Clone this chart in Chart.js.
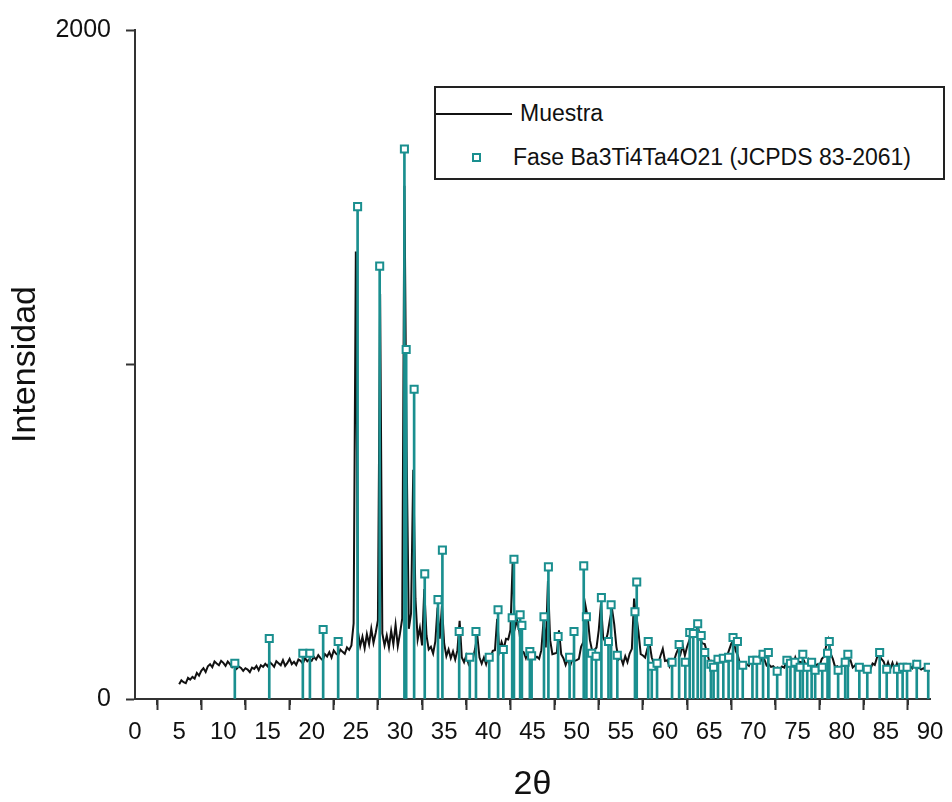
<!DOCTYPE html>
<html>
<head>
<meta charset="utf-8">
<title>DRX muestra</title>
<script src="https://cdn.jsdelivr.net/npm/chart.js@4.4.1/dist/chart.umd.min.js"></script>
<style>
  body { margin: 0; background: #fff; }
  #wrap { position: relative; width: 952px; height: 802px; }
  #legend {
    position: absolute; left: 434px; top: 86px; width: 507px; height: 90px;
    border: 2px solid #222; background: #fff;
    font: 23px 'Liberation Sans', Arial, sans-serif; color: #111;
  }
  #legend .txt { position: absolute; line-height: 26px; white-space: nowrap; }
  #legend .line { position: absolute; left: 0; top: 25px; width: 76px; border-top: 2px solid #111; }
  #legend .mark { position: absolute; left: 36px; top: 65px; width: 5px; height: 5px; border: 2px solid #1a8f8f; }
</style>
</head>
<body>
<div id="wrap">
  <canvas id="xrdChart"></canvas>
  <div id="legend">
    <div class="line"></div>
    <div class="txt" style="left:84px; top:12px;">Muestra</div>
    <div class="mark"></div>
    <div class="txt" style="left:77px; top:56px;">Fase Ba3Ti4Ta4O21 (JCPDS 83-2061)</div>
  </div>
</div>
<script>
// scan: 5 to 90 deg, step 0.25 deg
const scanStart = 5;
const scanStep = 0.25;
const scanCounts = [
  44, 56, 50, 47, 63, 58, 66, 61, 78, 70, 84, 92, 81, 98, 104, 95, 112, 106, 101, 114,            // 5
  108, 99, 112, 104, 95, 101, 90, 97, 93, 84, 92, 88, 80, 94, 90, 99, 86, 101, 96, 105,           // 10
  98, 110, 104, 96, 113, 107, 101, 116, 99, 108, 120, 104, 111, 102, 118, 114, 106, 122, 113, 119, // 15
  114, 126, 118, 131, 122, 116, 134, 127, 140, 124, 145, 136, 131, 148, 141, 135, 154, 147, 160, 226, // 20
  1338, 200, 158, 186, 152, 194, 164, 210, 168, 198, 236, 1211, 196, 160, 190, 154, 204, 164, 222, 158, // 25
  196, 240, 1534, 739, 210, 256, 685, 300, 178, 212, 160, 329, 190, 148, 156, 136, 172, 273, 180, 279, // 30
  166, 128, 148, 122, 142, 118, 146, 234, 124, 110, 130, 106, 126, 120, 150, 190, 124, 106, 124, 104, // 35
  128, 124, 144, 146, 240, 144, 170, 150, 180, 178, 206, 406, 210, 234, 204, 144, 140, 122, 144, 118, // 40
  128, 122, 126, 120, 146, 234, 154, 353, 176, 134, 136, 138, 205, 134, 122, 102, 120, 98, 118, 114,  // 45
  116, 120, 156, 170, 279, 243, 176, 144, 146, 154, 206, 285, 184, 170, 194, 236, 270, 224, 156, 118, // 50
  124, 104, 128, 110, 136, 150, 300, 250, 200, 134, 130, 124, 150, 166, 124, 106, 114, 108, 130, 150, // 55
  114, 116, 98, 118, 112, 134, 150, 134, 160, 130, 156, 175, 190, 190, 205, 215, 176, 166, 164, 140,  // 60
  114, 114, 108, 116, 112, 120, 118, 124, 126, 146, 165, 175, 144, 130, 104, 108, 102, 104, 99, 118,  // 65
  112, 116, 116, 132, 114, 118, 100, 104, 96, 98, 90, 94, 89, 97, 94, 114, 100, 120, 102, 124,        // 70
  106, 111, 109, 114, 94, 116, 96, 102, 98, 104, 100, 120, 126, 160, 178, 136, 120, 96, 98, 80,       // 75
  100, 99, 118, 114, 116, 94, 100, 92, 96, 90, 94, 86, 92, 89, 106, 102, 124, 130, 120, 112,          // 80
  92, 110, 90, 108, 88, 106, 86, 104, 98, 102, 94, 98, 92, 110, 90, 94, 88, 92, 86, 90,               // 85
  84                                                                                                   // 90
];

// reference pattern JCPDS 83-2061 (2theta, height on the same scale)
const phaseAngles = [
  11.3, 15.2, 19.0, 19.8, 21.3, 23.0, 25.2, 27.7, 30.5, 30.7,
  31.6, 32.8, 34.3, 34.8, 36.7, 37.9, 38.6, 40.1, 41.1, 41.7,
  42.7, 42.9, 43.6, 43.8, 44.7, 44.9, 46.3, 46.8, 47.9, 49.2,
  49.7, 50.8, 51.1, 51.7, 52.2, 52.8, 53.6, 53.9, 54.6, 56.6,
  56.8, 58.1, 58.5, 59.1, 60.8, 61.6, 62.3, 62.8, 63.2, 63.7,
  64.1, 64.5, 65.2, 65.5, 66.0, 66.6, 67.2, 67.7, 68.2, 68.8,
  69.9, 70.4, 71.1, 71.7, 72.7, 73.8, 74.2, 74.7, 75.3, 75.6,
  76.1, 76.6, 77.0, 77.8, 78.4, 78.6, 79.6, 80.4, 80.7, 82.0,
  82.9, 84.3, 85.1, 86.3, 86.9, 87.4, 88.5, 89.8
];
const phaseHeights = [
  107, 181, 137, 137, 208, 172, 1472, 1294, 1644, 1045,
  926, 374, 297, 445, 202, 125, 202, 125, 267, 148,
  243, 418, 252, 220, 142, 129, 246, 395, 187, 125,
  202, 398, 246, 137, 128, 303, 172, 282, 131, 261,
  350, 172, 98, 107, 110, 163, 110, 199, 196, 225,
  190, 139, 104, 95, 119, 122, 125, 184, 172, 101,
  116, 116, 134, 139, 83, 116, 107, 110, 95, 134,
  95, 110, 86, 95, 137, 172, 86, 110, 134, 95,
  89, 139, 89, 89, 95, 95, 104, 95
];

const xTicks = { min: 0, max: 90, step: 5 };
const yTicks = { min: 0, max: 2000, step: 1000 };

const teal = '#1a8f8f';
const ink = '#111';
const fontFamily = "'Liberation Sans', Arial, sans-serif";

const muestra = scanCounts.map((c, i) => ({ x: scanStart + i * scanStep, y: c }));
const fase = phaseAngles.map((a, i) => ({ x: a, y: phaseHeights[i] }));

// minor ticks every 2.5 deg on the x axis
const minorTicks = {
  id: 'minorTicks',
  afterDraw(chart) {
    const xs = chart.scales.x;
    const ctx = chart.ctx;
    ctx.save();
    ctx.strokeStyle = '#333';
    ctx.lineWidth = 2;
    for (let v = xTicks.min + xTicks.step / 2; v < xTicks.max; v += xTicks.step) {
      const px = Math.round(xs.getPixelForValue(v));
      ctx.beginPath();
      ctx.moveTo(px, xs.top);
      ctx.lineTo(px, xs.top + 6);
      ctx.stroke();
    }
    ctx.restore();
  }
};

Chart.defaults.font.family = fontFamily;
Chart.defaults.color = ink;

new Chart(document.getElementById('xrdChart'), {
  type: 'line',
  data: {
    datasets: [
      {
        label: 'Fase Ba3Ti4Ta4O21 (JCPDS 83-2061)',
        type: 'scatter',
        data: fase,
        showLine: false,
        pointStyle: 'rect',
        pointRadius: 5,
        pointBorderWidth: 2,
        pointBorderColor: teal,
        pointBackgroundColor: '#fff',
        order: 0
      },
      {
        label: 'sticks',
        type: 'bar',
        data: fase,
        backgroundColor: teal,
        barThickness: 2,
        grouped: false,
        order: 1
      },
      {
        label: 'Muestra',
        data: muestra,
        borderColor: ink,
        borderWidth: 2,
        pointRadius: 0,
        tension: 0,
        order: 2
      }
    ]
  },
  options: {
    responsive: true,
    maintainAspectRatio: false,
    animation: false,
    layout: { padding: { left: 0, right: 22, top: 25, bottom: 0 } },
    plugins: {
      legend: { display: false },
      tooltip: { enabled: false }
    },
    scales: {
      x: {
        type: 'linear',
        offset: false,
        min: xTicks.min,
        max: xTicks.max,
        afterFit: (s) => { s.height = 103; },
        ticks: {
          stepSize: xTicks.step,
          padding: 8,
          maxRotation: 0,
          autoSkip: false,
          font: { size: 24 },
          color: ink
        },
        grid: { drawOnChartArea: false, drawTicks: true, tickLength: 11, tickWidth: 2, tickColor: '#333' },
        border: { display: true, color: '#333', width: 2 },
        title: {
          display: true,
          text: '2θ',
          font: { size: 34, lineHeight: 1 },
          padding: { top: 0, bottom: 0 },
          color: ink
        }
      },
      y: {
        min: yTicks.min,
        max: yTicks.max,
        afterFit: (s) => { s.width = 135; },
        ticks: {
          stepSize: yTicks.step,
          padding: 15,
          font: { size: 25 },
          color: ink,
          callback: (v) => (v === 1000 ? '' : v)
        },
        grid: { drawOnChartArea: false, drawTicks: true, tickLength: 9, tickWidth: 2, tickColor: '#333' },
        border: { display: true, color: '#333', width: 2 },
        title: {
          display: true,
          text: 'Intensidad',
          font: { size: 34, lineHeight: 1 },
          padding: { top: 9, bottom: 0 },
          color: ink
        }
      }
    }
  },
  plugins: [minorTicks]
});
</script>
</body>
</html>
